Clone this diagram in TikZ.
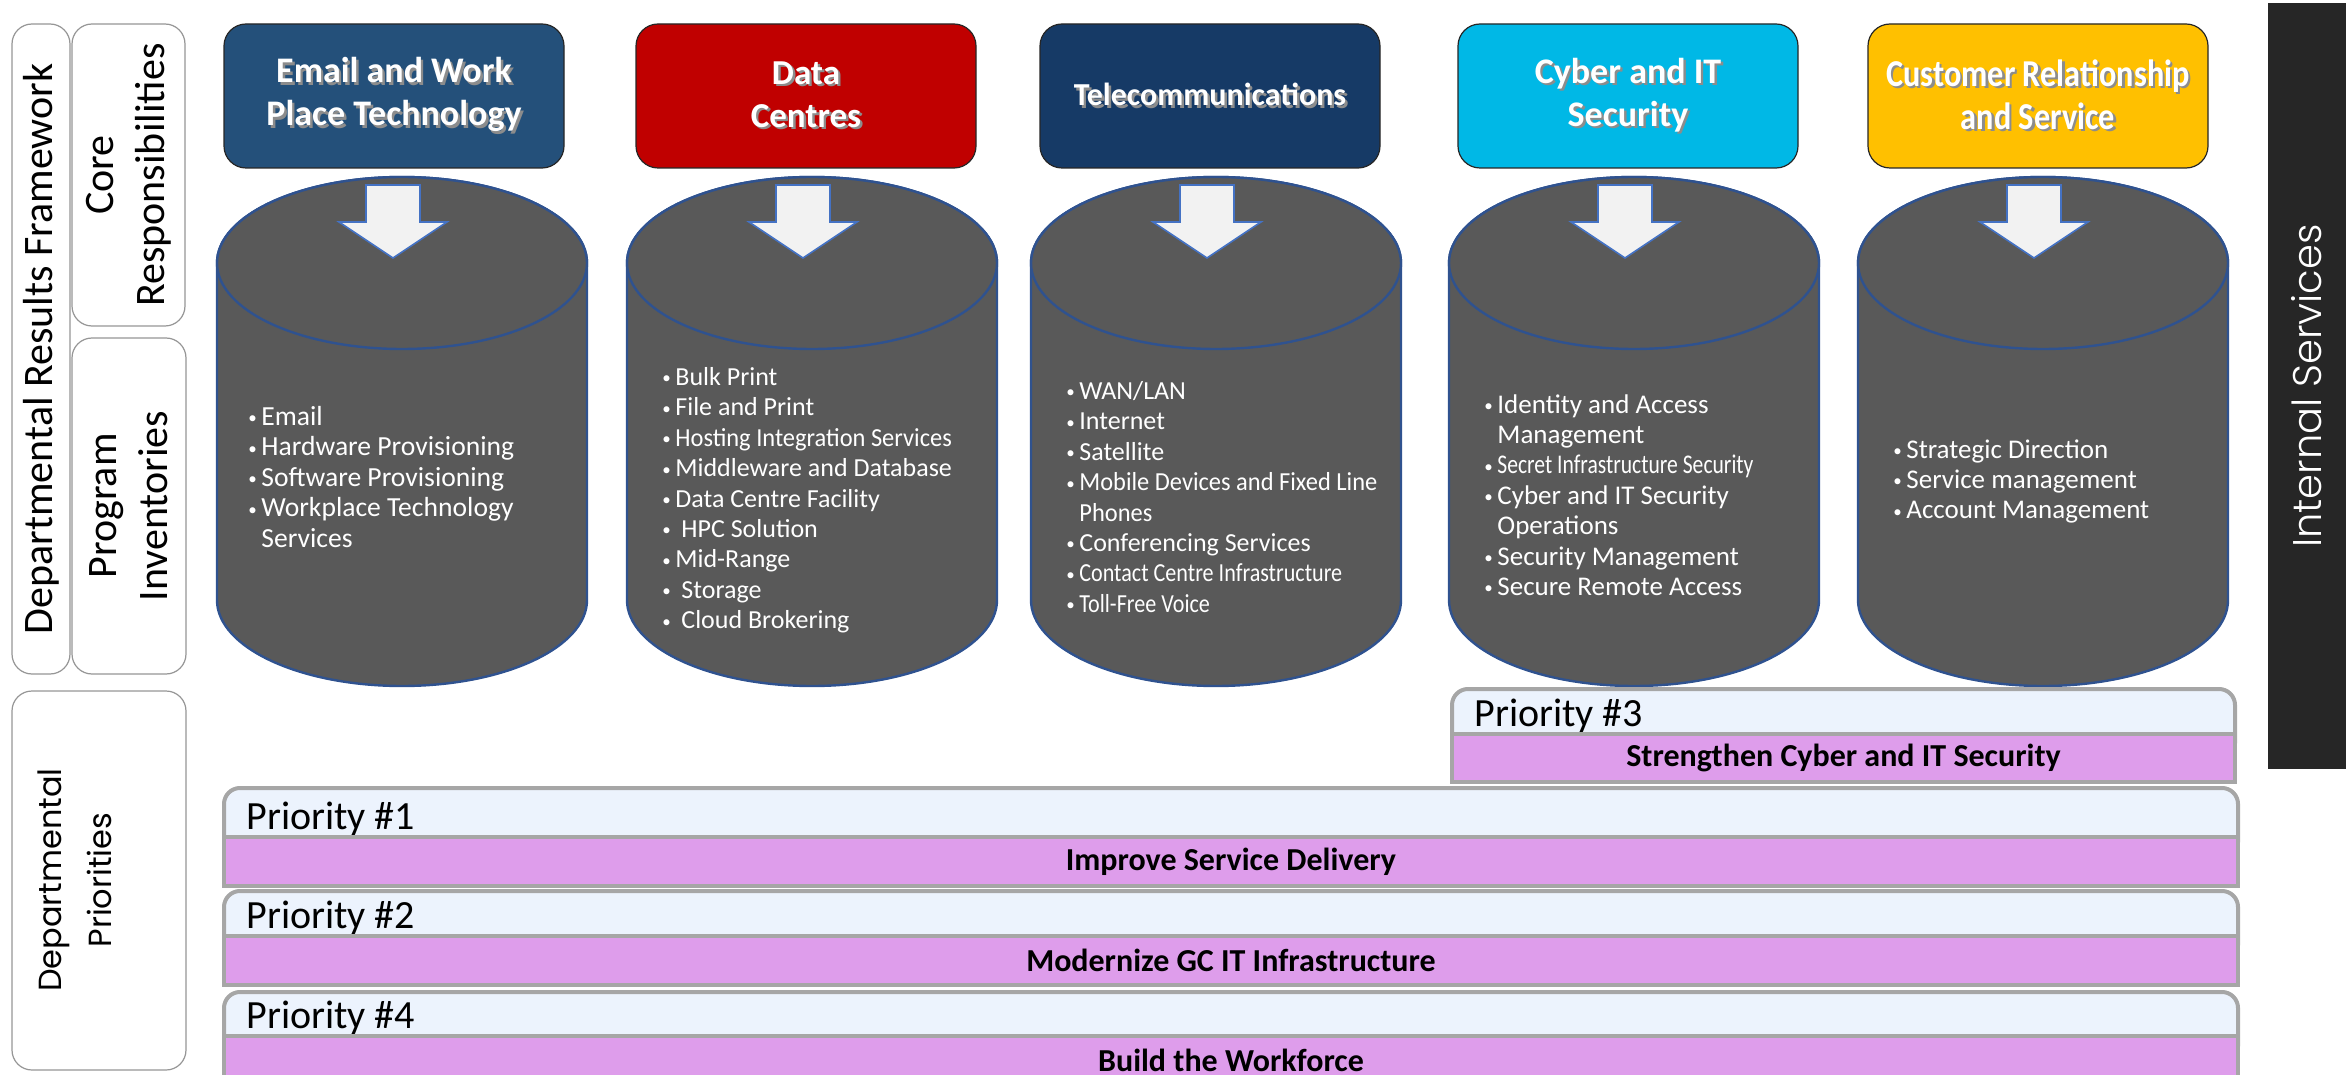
\documentclass[tikz,border=0pt]{standalone}
\usepackage{fontspec}
\setmainfont{Carlito}
\newfontfamily\narrowfont{Carlito}[FakeStretch=0.85]
\newfontfamily\tightfont{Carlito}[FakeStretch=0.8]
\newfontfamily\semifont{Carlito}[FakeStretch=0.94]
\newfontfamily\gothicfont{Poppins}
\newfontfamily\gothiclight{Poppins Light}
\usepackage{tikz}
\usetikzlibrary{calc}

\definecolor{emailblue}{RGB}{36,80,122}
\definecolor{dcred}{RGB}{192,0,0}
\definecolor{telblue}{RGB}{22,58,102}
\definecolor{cyberblue}{RGB}{0,184,230}
\definecolor{crmgold}{RGB}{255,192,0}
\definecolor{cylgrey}{RGB}{89,89,89}
\definecolor{cylblue}{RGB}{47,82,143}
\definecolor{arrowfill}{RGB}{242,242,242}
\definecolor{arrowblue}{RGB}{68,114,196}
\definecolor{framegrey}{RGB}{150,150,150}
\definecolor{priogrey}{RGB}{166,166,166}
\definecolor{prioblue}{RGB}{236,243,253}
\definecolor{priopink}{RGB}{222,157,235}
\definecolor{isblack}{RGB}{38,38,38}

\newcommand\fsz[2]{\fontsize{#1}{#2}\selectfont}
\newcommand\bl{\makebox[6.5pt][l]{\raisebox{0.8pt}{\fontsize{8.5pt}{8.5pt}\selectfont\textbullet}}}
\newcommand\ind{\hspace*{6.5pt}}
\newcommand\shd[1]{\makebox[0pt][l]{\hspace{1.2pt}\raisebox{-1.2pt}{\color{black!45}#1}}#1}

\begin{document}
\begin{tikzpicture}[
    x=0.5pt, y=-0.5pt,
    core/.style={rectangle, rounded corners=11pt, draw=black!85, line width=0.6pt, minimum width=170pt, minimum height=72pt, align=center, text=white, inner sep=0pt},
    cyl/.style={fill=cylgrey, draw=cylblue, line width=1.2pt},
    downarrow/.style={fill=arrowfill, draw=arrowblue, line width=0.8pt},
    inventory/.style={anchor=north west, align=left, text=white, inner sep=0pt, font=\fsz{13.5pt}{15.2pt}},
    frame/.style={rectangle, draw=framegrey, line width=0.6pt, rounded corners=10pt, fill=white, rotate=90, align=center, inner sep=0pt, font=\fsz{21pt}{25.5pt}},
    priobox/.style={rectangle, fill=prioblue, draw=priogrey, line width=2pt, rounded corners=8pt, anchor=north west, inner sep=0pt, minimum height=35pt},
    priobar/.style={rectangle, fill=priopink, draw=priogrey, line width=2pt, anchor=north west, inner sep=0pt, minimum height=24.5pt, font=\fsz{16pt}{19pt}\bfseries},
    priolabel/.style={anchor=base west, inner sep=0pt, font=\fsz{20pt}{24pt}}
]
    \useasboundingbox (0,0) rectangle (2346,1075);
    \clip (0,0) rectangle (2346,1075);

    % Framework labels on the left
    \node[frame, minimum width=325pt, minimum height=29pt] (drf) at (41,349) {Departmental Results Framework};
    \node[frame, minimum width=151pt, minimum height=56.5pt] (corelab) at (128.5,175) {Core\\Responsibilities};
    \node[frame, minimum width=168pt, minimum height=57pt] (proglab) at (129,506) {Program\\Inventories};
    \node[frame, minimum width=189.5pt, minimum height=87pt] (priolab) at (99,880.5) {};
    \node[rotate=90, align=center, inner sep=0pt, font=\gothicfont\fsz{16pt}{25pt}] (priotext) at (75,880) {Departmental\\Priorities};

    % Internal services bar
    \node[rectangle, fill=isblack, rotate=90, minimum width=383pt, minimum height=39pt, inner sep=0pt, text=white, font=\gothiclight\fsz{20pt}{24pt}] (internal) at (2307,386) {Internal Services};

    % Core responsibilities
    \node[core, fill=emailblue, font=\fsz{18pt}{21.5pt}\bfseries] (email) at (394,96) {\shd{Email and Work}\\\shd{Place Technology}};
    \node[core, fill=dcred, font=\fsz{17.5pt}{21.5pt}\bfseries] (dc) at (806,96) {\shd{Data}\\\shd{Centres}};
    \node[core, fill=telblue, font=\fsz{16pt}{19pt}\bfseries] (tel) at (1210,96) {\shd{Telecommunications}};
    \node[core, fill=cyberblue, font=\fsz{18pt}{21.5pt}\bfseries] (cyber) at (1628,96) {\shd{Cyber and IT}\\\shd{Security}};
    \node[core, fill=crmgold, font=\narrowfont\fsz{19pt}{21.5pt}\bfseries] (crm) at (2038,96) {\shd{Customer Relationship}\\\shd{and Service}};

    % Cylinders with block arrows
    \foreach \c in {402,812,1216,1634,2043} {
        \path[cyl] (\c-185,263) -- (\c-185,600)
            arc[start angle=180, end angle=0, x radius=185, y radius=86]
            -- (\c+185,263)
            arc[start angle=0, end angle=-180, x radius=185, y radius=86] -- cycle;
        \draw[cyl] (\c,263) ellipse [x radius=185, y radius=86];
        \draw[downarrow] (\c-36,185) -- (\c-36,222) -- (\c-63,222) -- (\c-9,258)
            -- (\c+45,222) -- (\c+18,222) -- (\c+18,185) -- cycle;
    }

    % Program inventories
    \node[inventory, font=\fsz{13.8pt}{15.2pt}] (emailinv) at (248,406) {\bl Email\\\bl Hardware Provisioning\\\bl Software Provisioning\\\bl Workplace Technology\\\ind Services};
    \node[inventory, font=\fsz{13pt}{15.2pt}] (dcinv) at (662,367) {\bl Bulk Print\\\bl File and Print\\\bl{\semifont Hosting Integration Services}\\\bl Middleware and Database\\\bl Data Centre Facility\\\bl\hspace{3pt}HPC Solution\\\bl Mid-Range\\\bl\hspace{3pt}Storage\\\bl\hspace{3pt}Cloud Brokering};
    \node[inventory, font=\fsz{13pt}{15.2pt}] (telinv) at (1066,381) {\bl WAN/LAN\\\bl Internet\\\bl Satellite\\\bl{\semifont Mobile Devices and Fixed Line}\\\ind{\semifont Phones}\\\bl Conferencing Services\\\bl{\narrowfont Contact Centre Infrastructure}\\\bl{\narrowfont Toll-Free Voice}};
    \node[inventory] (cyberinv) at (1484,394) {\bl Identity and Access\\\ind Management\\\bl{\tightfont Secret Infrastructure Security}\\\bl Cyber and IT Security\\\ind Operations\\\bl Security Management\\\bl Secure Remote Access};
    \node[inventory] (crminv) at (1893,439) {\bl Strategic Direction\\\bl Service management\\\bl Account Management};

    % Departmental priorities
    \node[priobox, minimum width=391.5pt] (prio3) at (1450,687) {};
    \node[priolabel] (prio3lab) at (1474,726) {Priority \#3};
    \node[priobar, minimum width=391.5pt, minimum height=24pt] (prio3bar) at (1450,732) {Strengthen Cyber and IT Security};

    \foreach \t/\p/\n/\txt in {786/835/1/Improve Service Delivery, 889/934/2/Modernize GC IT Infrastructure, 990/1034/4/Build the Workforce} {
        \node[priobox, minimum width=1007pt] (prio\n) at (222,\t) {};
        \node[priolabel] (prio\n lab) at (246,\p-6) {Priority \#\n};
        \node[priobar, minimum width=1007pt] (prio\n bar) at (222,\p) {\txt};
    }
\end{tikzpicture}
\end{document}
